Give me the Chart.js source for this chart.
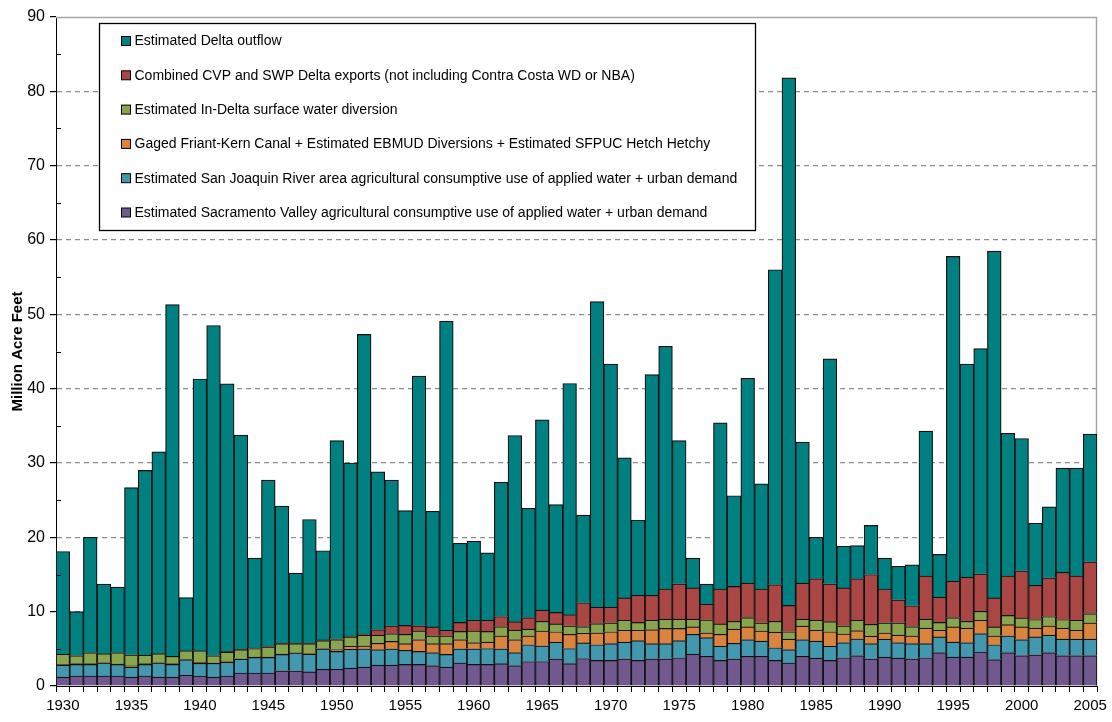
<!DOCTYPE html>
<html><head><meta charset="utf-8">
<script src="https://cdn.jsdelivr.net/npm/chart.js@4/dist/chart.umd.min.js"></script>
<style>html,body{margin:0;padding:0;background:#fff}#wrap{width:1112px;height:722px}</style>
</head><body><div id="wrap"><canvas id="c" width="1112" height="722"></canvas></div>
<script>
const years = [1930,1931,1932,1933,1934,1935,1936,1937,1938,1939,
1940,1941,1942,1943,1944,1945,1946,1947,1948,1949,
1950,1951,1952,1953,1954,1955,1956,1957,1958,1959,
1960,1961,1962,1963,1964,1965,1966,1967,1968,1969,
1970,1971,1972,1973,1974,1975,1976,1977,1978,1979,
1980,1981,1982,1983,1984,1985,1986,1987,1988,1989,
1990,1991,1992,1993,1994,1995,1996,1997,1998,1999,
2000,2001,2002,2003,2004,2005];

const sacValley = [1.2,1.35,1.35,1.35,1.35,1.2,1.35,1.2,1.2,1.45,
1.35,1.2,1.35,1.75,1.75,1.75,2.05,2.05,1.9,2.25,
2.25,2.4,2.55,2.8,2.8,2.9,2.9,2.75,2.55,3.1,
2.9,2.9,3.0,2.75,3.3,3.3,3.65,3.0,3.7,3.45,
3.45,3.65,3.45,3.65,3.65,3.8,4.3,4.0,3.45,3.65,
4.0,4.0,3.45,3.1,4.0,3.75,3.45,3.8,4.1,3.65,
3.9,3.75,3.65,3.8,4.5,3.9,3.9,4.6,3.55,4.5,
4.1,4.2,4.5,4.1,4.1,4.1];

const sanJoaquin = [1.6,1.55,1.55,1.75,1.55,1.35,1.55,1.9,1.7,2.1,
1.7,1.85,1.85,1.85,2.1,2.1,2.2,2.4,2.4,2.75,
2.4,2.55,2.45,2.1,2.2,1.9,1.75,1.75,1.7,1.9,
2.1,2.15,2.0,1.75,2.25,2.1,2.25,2.05,2.1,2.1,
2.25,2.25,2.65,2.05,2.05,2.3,2.65,2.5,1.9,2.1,
2.25,2.05,1.7,1.8,2.25,2.3,1.9,2.05,2.25,2.05,
2.4,2.1,2.05,1.9,2.1,2.0,1.95,2.45,2.0,2.25,
2.15,2.4,2.35,2.2,2.2,2.2];

const friantKern = [0.1,0.1,0.1,0.05,0.05,0.15,0.1,0.05,0.1,0.05,
0.15,0.05,0.15,0.05,0.05,0.05,0.05,0.05,0.05,0.05,
0.25,0.4,0.4,0.85,1.0,0.9,1.6,1.2,1.45,1.25,
0.85,0.85,1.75,1.75,1.2,2.0,1.4,1.9,1.3,1.6,
1.6,1.6,1.4,1.9,2.05,1.65,1.0,0.65,1.6,1.9,
1.7,1.35,2.1,1.4,1.8,1.45,1.95,1.15,1.1,1.0,
0.85,1.0,1.05,2.1,0.9,2.05,1.95,1.8,1.2,1.5,
1.7,1.2,1.25,1.5,1.2,2.2];

const inDelta = [1.4,1.1,1.5,1.2,1.55,1.5,1.15,1.2,1.0,1.15,
1.55,1.0,1.2,1.25,1.15,1.35,1.4,1.2,1.35,1.05,
1.35,1.25,1.45,1.1,1.05,1.25,1.15,1.05,1.05,1.1,
1.55,1.45,1.25,1.25,0.9,1.3,1.05,1.15,0.9,1.25,
1.2,1.35,1.05,1.25,1.25,1.25,1.05,1.75,1.4,1.05,
1.25,1.1,1.45,1.0,0.95,1.35,1.35,1.1,1.4,1.6,
1.35,1.65,1.25,1.2,1.05,1.25,0.9,1.2,1.2,1.25,
1.2,1.15,1.25,1.15,1.35,1.25];

const deltaExports = [0,0,0,0,0,0,0,0,0,0,
0,0,0.1,0.05,0.05,0.05,0.05,0.05,0.05,0.1,
0.1,0.1,0.15,0.75,1.05,1.2,0.7,1.2,0.75,1.2,
1.45,1.5,1.35,1.15,1.55,1.5,1.55,1.5,3.2,2.2,
2.1,3.0,3.65,3.35,4.05,4.75,4.2,2.1,4.7,4.7,
4.65,4.55,4.95,3.55,4.85,5.6,5.1,5.1,5.6,6.7,
4.55,3.1,2.8,5.8,3.4,4.9,5.95,5.05,3.9,5.3,
6.35,4.6,5.2,6.35,5.95,6.95];

const deltaOutflow = [13.8,5.9,15.5,9.35,8.8,22.5,24.85,27.15,47.3,7.15,
36.55,44.4,36.0,28.8,12.1,22.4,18.45,9.45,16.65,12.0,
26.65,23.3,40.3,21.2,19.6,15.45,33.6,15.55,41.6,10.65,
10.65,9.05,18.05,25.05,14.7,25.6,14.5,31.1,11.8,41.1,
32.7,18.85,10.1,29.7,32.65,19.25,4.0,2.7,22.35,12.2,
27.55,14.15,42.35,70.95,18.95,5.55,30.25,5.6,4.45,6.6,
4.15,4.5,5.5,19.5,5.75,43.7,28.65,30.3,46.65,19.2,
17.8,8.35,9.55,14.0,14.5,17.2];

const yTicks = [0,10,20,30,40,50,60,70,80,90];

const FONT = "'Liberation Sans', Arial, sans-serif";

const series = [
  {label:'Estimated Sacramento Valley agricultural consumptive use of applied water + urban demand', data:sacValley, color:'#71588F'},
  {label:'Estimated San Joaquin River area agricultural consumptive use of applied water + urban demand', data:sanJoaquin, color:'#4198AF'},
  {label:'Gaged Friant-Kern Canal + Estimated EBMUD Diversions + Estimated SFPUC Hetch Hetchy', data:friantKern, color:'#DB843D'},
  {label:'Estimated In-Delta surface water diversion', data:inDelta, color:'#89A54E'},
  {label:'Combined CVP and SWP Delta exports (not including Contra Costa WD or NBA)', data:deltaExports, color:'#AA4643'},
  {label:'Estimated Delta outflow', data:deltaOutflow, color:'#008080'}
];

const decor = {
  id:'decor',
  beforeDatasetsDraw(chart){
    const {ctx, chartArea:a} = chart;
    ctx.save();
    ctx.strokeStyle = '#a6a6a6'; ctx.lineWidth = 1.5;
    ctx.beginPath();
    ctx.moveTo(a.left, a.top+0.5);
    ctx.lineTo(a.right-0.5, a.top+0.5);
    ctx.lineTo(a.right-0.5, a.bottom);
    ctx.stroke();
    ctx.restore();
  },
  afterDraw(chart){
    const {ctx, chartArea:a, scales:{y}} = chart;
    ctx.save();
    ctx.strokeStyle = '#000'; ctx.lineWidth = 1;
    for (let i=0;i<yTicks.length-1;i++){
      const py = Math.round(y.getPixelForValue((yTicks[i]+yTicks[i+1])/2))+0.5;
      ctx.beginPath(); ctx.moveTo(a.left, py); ctx.lineTo(a.left+5, py); ctx.stroke();
    }
    const bx = a.left+43.5, by = a.top+6.5, bw = 656, bh = 207;
    ctx.fillStyle = '#fff';
    ctx.fillRect(bx, by, bw, bh);
    ctx.strokeStyle = '#000'; ctx.lineWidth = 1.3;
    ctx.strokeRect(bx, by, bw, bh);
    const items = chart.data.datasets.slice().reverse();
    ctx.font = '14px ' + FONT;
    ctx.textBaseline = 'middle';
    items.forEach((ds, i) => {
      const cy = by + 17.5 + i*34.3;
      ctx.fillStyle = ds.backgroundColor;
      ctx.fillRect(bx+22, cy-4.5, 9, 9);
      ctx.strokeStyle = '#000'; ctx.lineWidth = 1;
      ctx.strokeRect(bx+22, cy-4.5, 9, 9);
      ctx.fillStyle = '#000';
      ctx.fillText(ds.label, bx+35, cy+0.5);
    });
    ctx.restore();
  }
};

new Chart(document.getElementById('c'), {
  type:'bar',
  data:{
    labels: years,
    datasets: series.map(s => ({
      label: s.label, data: s.data,
      backgroundColor: s.color, borderColor:'#111', borderWidth:1.2,
      categoryPercentage:1, barPercentage:1
    }))
  },
  options:{
    responsive:false, animation:false, devicePixelRatio:1,
    layout:{padding:{top:17, right:15, left:0, bottom:0}},
    plugins:{legend:{display:false}, tooltip:{enabled:false}},
    scales:{
      x:{
        stacked:true,
        afterFit(s){ s.height = 36; },
        grid:{drawOnChartArea:false, tickLength:6, tickColor:'#000', offset:true},
        border:{display:true, color:'#000', width:1},
        ticks:{
          autoSkip:false, maxRotation:0, minRotation:0, padding:5,
          color:'#000', font:{family:FONT, size:15},
          callback(v, i){ return years[i] % 5 === 0 ? String(years[i]) : ''; }
        }
      },
      y:{
        stacked:true, min:0, max:90,
        afterFit(s){ s.width = 56; },
        afterBuildTicks(s){ s.ticks = yTicks.map(v => ({value:v})); },
        grid:{
          color: c => (c.tick && c.tick.value > 0 && c.tick.value < 90) ? '#8c8c8c' : 'rgba(0,0,0,0)',
          lineWidth:1.2, tickLength:6, tickColor:'#000'
        },
        border:{display:true, color:'#000', width:1, dash:[5,4]},
        ticks:{color:'#000', padding:5, font:{family:FONT, size:16}},
        title:{display:true, text:'Million Acre Feet', color:'#000',
          font:{family:FONT, size:15, weight:'bold'}, padding:{top:9, bottom:0}}
      }
    }
  },
  plugins:[decor]
});
</script></body></html>
